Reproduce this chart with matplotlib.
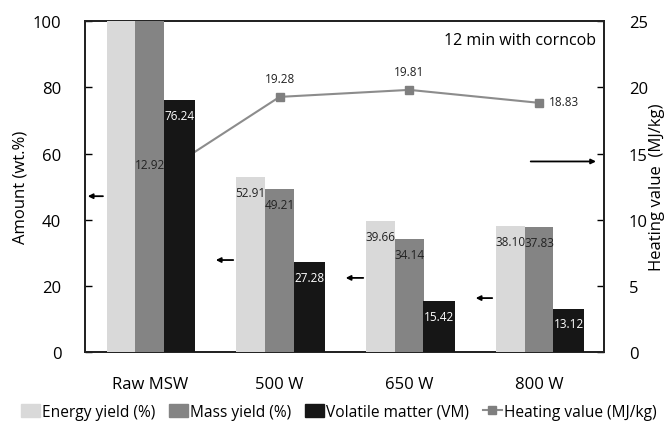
import matplotlib.pyplot as plt
from matplotlib.lines import Line2D
from matplotlib.patches import Patch
import numpy as np

categories = ["Raw MSW", "500 W", "650 W", "800 W"]
energy_yield = [100, 52.91, 39.66, 38.10]
mass_yield = [100, 49.21, 34.14, 37.83]
volatile_matter = [76.24, 27.28, 15.42, 13.12]
heating_value = [12.92, 19.28, 19.81, 18.83]

energy_labels = ["", "52.91", "39.66", "38.10"]
mass_labels = ["", "49.21", "34.14", "37.83"]
vm_labels = ["76.24", "27.28", "15.42", "13.12"]
hv_labels = ["12.92", "19.28", "19.81", "18.83"]

plt.rcParams['font.family'] = ['Open Sans', 'DejaVu Sans']

fig = plt.figure(figsize=(6.67, 4.27), dpi=100)
ax = fig.add_axes([0.1274, 0.1733, 0.7781, 0.7747])
ax2 = ax.twinx()

x = np.arange(len(categories))
w = 0.222
c_energy, c_mass, c_vm = "#d9d9d9", "#848484", "#161616"

# line behind bars
ax.set_zorder(2)
ax.patch.set_visible(False)
ax2.set_zorder(1)
ax2.plot(x, heating_value, color="#8c8c8c", lw=1.5, marker="s", ms=5.5,
         mfc="#7f7f7f", mec="#7f7f7f", zorder=1)

ax.bar(x - w, energy_yield, w, color=c_energy, zorder=3)
ax.bar(x, mass_yield, w, color=c_mass, zorder=3)
ax.bar(x + w * 1.03, volatile_matter, w * 1.08, color=c_vm, zorder=3)

lab_fs = 8.5
for i in range(len(categories)):
    if energy_labels[i]:
        ax.annotate(energy_labels[i], (x[i] - w, energy_yield[i]), xytext=(0, -11),
                    textcoords="offset points", ha="center", va="center",
                    fontsize=lab_fs, color="#222222", zorder=5)
    if mass_labels[i]:
        ax.annotate(mass_labels[i], (x[i], mass_yield[i]), xytext=(0, -11),
                    textcoords="offset points", ha="center", va="center",
                    fontsize=lab_fs, color="#222222", zorder=5)
    ax.annotate(vm_labels[i], (x[i] + w * 1.03, volatile_matter[i]), xytext=(0, -11),
                textcoords="offset points", ha="center", va="center",
                fontsize=lab_fs, color="white", zorder=5)

for i in range(len(categories)):
    if i == 0:
        ax.annotate(hv_labels[i], (x[i], heating_value[i] * 4), xytext=(0, 12),
                    textcoords="offset points", ha="center", va="center",
                    fontsize=lab_fs, color="#222222", zorder=6)
    elif i == 3:
        ax.annotate(hv_labels[i], (x[i], heating_value[i] * 4), xytext=(18, 1),
                    textcoords="offset points", ha="center", va="center",
                    fontsize=lab_fs, color="#222222", zorder=6)
    else:
        ax.annotate(hv_labels[i], (x[i], heating_value[i] * 4), xytext=(0, 13),
                    textcoords="offset points", ha="center", va="center",
                    fontsize=lab_fs, color="#222222", zorder=6)

# arrows
arrows_left = [(-0.34, -0.5, 47.1), (0.664, 0.487, 27.8), (1.666, 1.488, 22.4), (2.66, 2.49, 16.3)]
for x0, x1, yv in arrows_left:
    ax.annotate("", xy=(x1, yv), xytext=(x0, yv),
                arrowprops=dict(arrowstyle="-|>", color="black", lw=1.3, mutation_scale=7),
                zorder=6)
ax.annotate("", xy=(3.46, 14.4 * 4), xytext=(2.914, 14.4 * 4),
            arrowprops=dict(arrowstyle="-|>", color="black", lw=1.3, mutation_scale=7),
            zorder=6)

ax.set_xlim(-0.5, 3.5)
ax.set_ylim(0, 100)
ax2.set_ylim(0, 25)
ax.set_yticks([0, 20, 40, 60, 80, 100])
ax2.set_yticks([0, 5, 10, 15, 20, 25])
ax.set_xticks(x)
ax.set_xticklabels(categories)

ax.tick_params(axis="x", length=0, pad=17, labelsize=12)
ax.tick_params(axis="y", direction="in", length=5, width=1, pad=17, labelsize=12)
ax2.tick_params(axis="y", direction="in", length=5, width=1, pad=18, labelsize=12)

for a in (ax, ax2):
    for s in a.spines.values():
        s.set_linewidth(1.3)
        s.set_color("#222222")

ax.set_ylabel("Amount (wt.%)", fontsize=12, labelpad=3)
ax2.set_ylabel("Heating value  (MJ/kg)", fontsize=12, labelpad=1)

ax.text(0.985, 0.943, "12 min with corncob", transform=ax.transAxes,
        ha="right", va="center", fontsize=11.5, zorder=6)

handles = [Patch(color=c_energy), Patch(color=c_mass), Patch(color=c_vm),
           Line2D([0], [0], color="#8c8c8c", lw=1.5, marker="s", ms=5.5,
                  mfc="#7f7f7f", mec="#7f7f7f")]
labels = ["Energy yield (%)", "Mass yield (%)", "Volatile matter (VM)", "Heating value (MJ/kg)"]
fig.legend(handles, labels, loc="center", bbox_to_anchor=(0.508, 0.033), ncol=4,
           frameon=False, fontsize=11.2, handlelength=1.2, handletextpad=0.15,
           columnspacing=0.9, handleheight=0.9)

fig.savefig("out.png", dpi=100)
